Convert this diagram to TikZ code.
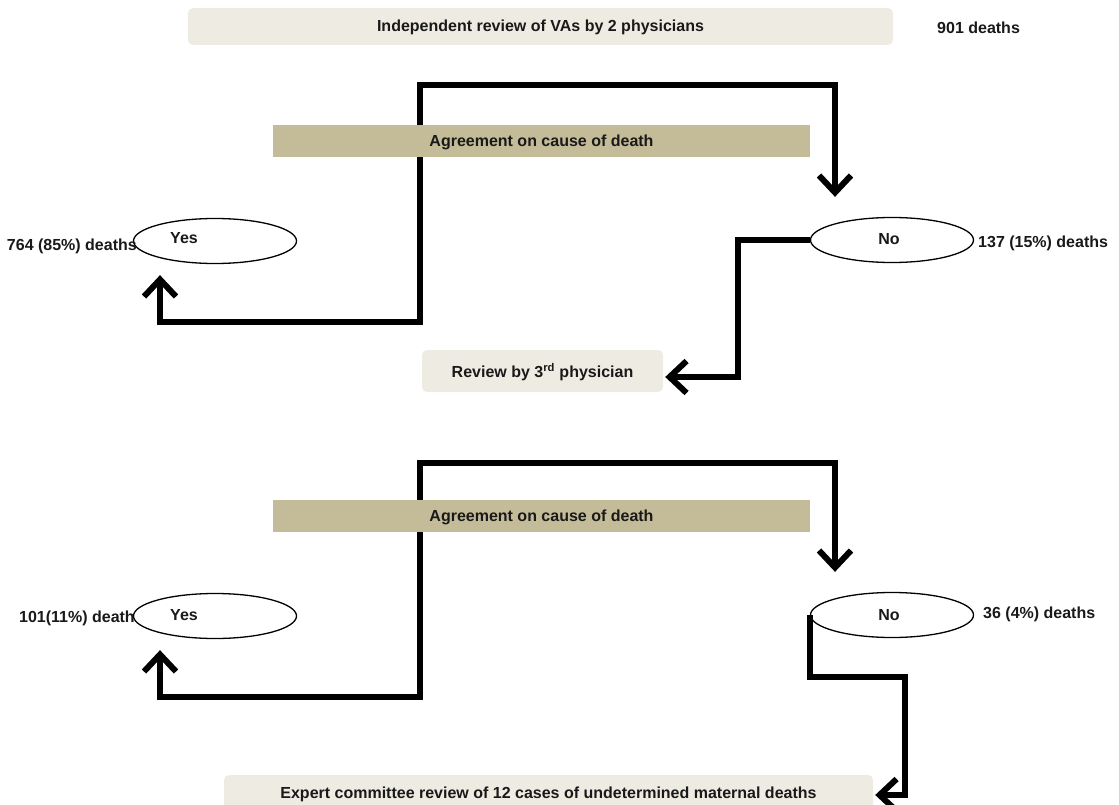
\documentclass[tikz,border=0pt]{standalone}
\usepackage{fontspec}
\setmainfont{Liberation Sans}
\usetikzlibrary{arrows.meta,shapes.geometric}
\definecolor{lightbox}{RGB}{238,236,226}
\definecolor{barbox}{RGB}{196,188,152}
\definecolor{txtc}{RGB}{25,25,25}
\begin{document}
\begin{tikzpicture}[x=1pt,y=-1pt,
  every node/.style={font=\fontsize{16}{18}\selectfont\bfseries, text=txtc},
  softbox/.style={fill=lightbox, rounded corners=5pt, inner sep=0pt, text depth=1pt},
  agreebar/.style={fill=barbox, inner sep=0pt, minimum width=537pt, minimum height=32pt, text depth=1pt},
  ell/.style={ellipse, draw=black, line width=1.3pt, fill=white, minimum width=163pt, minimum height=45pt, inner sep=0pt},
  lbl/.style={inner sep=0pt},
  conn/.style={line width=6pt, draw=black},
  >={Straight Barb[length=17pt,width=32pt]}
]
\useasboundingbox (0,0) rectangle (1119,805);

% top box
\node[softbox, minimum width=705pt, minimum height=37pt] (indep) at (540.5,26.5) {Independent review of VAs by 2 physicians};
\node[lbl, anchor=west] (n901) at (937,28) {901 deaths};

% ---------- first stage ----------
\node[ell, label={[lbl,xshift=-31pt,yshift=3pt]center:Yes}] (yes1) at (215,241) {};
\node[ell, label={[lbl,xshift=-3pt,yshift=1pt]center:No}] (no1) at (892,240) {};
\node[lbl, anchor=east] (l764) at (137,246) {764 (85\%) deaths};
\node[lbl, anchor=west] (l137) at (978,243) {137 (15\%) deaths};
\node[softbox, minimum width=241pt, minimum height=42pt] (review) at (542.5,371) {Review by 3\textsuperscript{rd} physician};

\coordinate (a1) at (420,322);
\coordinate (a2) at (420,85);
\draw[conn, <->] ([xshift=-55pt,yshift=-11pt]yes1.south) |- (a1) -- (a2) -| ([xshift=-57pt,yshift=20pt]no1.north);
\coordinate (b1) at (738,240);
\draw[conn, ->] (no1.west) -- (b1) |- ([xshift=2pt,yshift=-6pt]review.east);

\node[agreebar] (agree1) at (541.5,141) {Agreement on cause of death};

% ---------- second stage ----------
\node[ell, label={[lbl,xshift=-31pt,yshift=1pt]center:Yes}] (yes2) at (215,616) {};
\node[ell, label={[lbl,xshift=-3pt,yshift=0pt]center:No}] (no2) at (892,615) {};
\node[lbl, anchor=east] (l101) at (135,618) {101(11\%) death};
\node[lbl, anchor=west] (l36) at (983,614) {36 (4\%) deaths};
\node[softbox, minimum width=649pt, minimum height=36pt] (expert) at (548.5,793) {Expert committee review of 12 cases of undetermined maternal deaths};

\coordinate (a3) at (420,697);
\coordinate (a4) at (420,463);
\draw[conn, <->] ([xshift=-55pt,yshift=-11pt]yes2.south) |- (a3) -- (a4) -| ([xshift=-57pt,yshift=20pt]no2.north);
\coordinate (b3) at (905,677);
\draw[conn, ->] (no2.west) -- (no2.west |- b3) -- (b3) |- ([xshift=2pt,yshift=-2pt]expert.east);

\node[agreebar] (agree2) at (541.5,516) {Agreement on cause of death};
\end{tikzpicture}
\end{document}
